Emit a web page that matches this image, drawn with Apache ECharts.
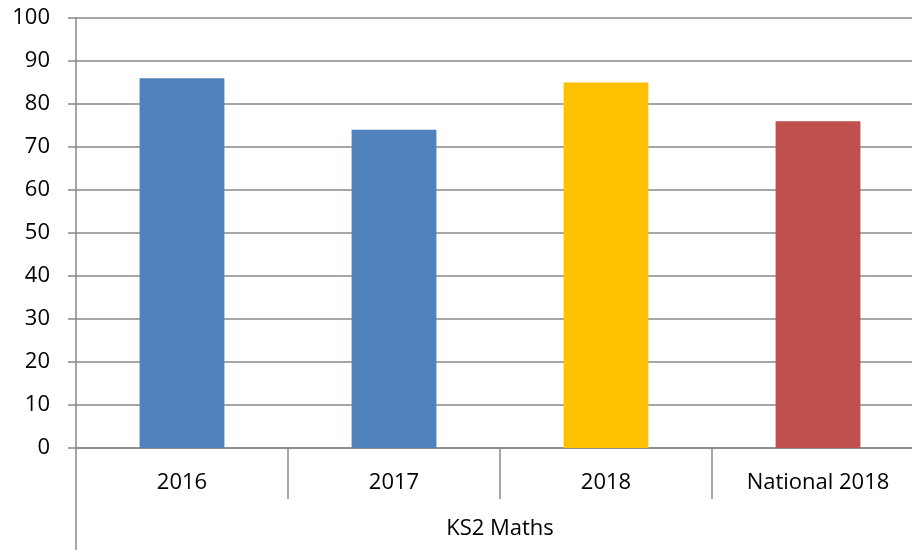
<!DOCTYPE html>
<html>
<head>
<meta charset="utf-8">
<script src="https://cdn.jsdelivr.net/npm/echarts@6/dist/echarts.min.js"></script>
<style>
  html, body { margin: 0; padding: 0; background: #fff; overflow: hidden; }
  /* the original chart runs past the right edge of the picture, so the canvas is a bit wider than the window */
  #chart { width: 924px; height: 550px; }
</style>
</head>
<body>
<div id="chart"></div>
<script>
var categories = ['2016', '2017', '2018', 'National 2018'];
var values = [86, 74, 85, 76];
var groupLabel = ['KS2 Maths'];
var yTicks = { min: 0, max: 100, interval: 10 };

var barColors = ['#4F81BD', '#4F81BD', '#FFC000', '#C0504D'];
var axisGrey = '#888888';
var font = 'Open Sans, Liberation Sans, sans-serif';

var myChart = echarts.init(document.getElementById('chart'));
var option = {
    animation: false,
    grid: {
        left: 76,
        top: 18,
        right: 0,
        bottom: 102,
        containLabel: false
    },
    xAxis: [{
        type: 'category',
        data: categories,
        position: 'bottom',
        axisLine: { show: true, lineStyle: { color: axisGrey, width: 1.5 } },
        axisTick: { show: true, interval: 0, length: 51, alignWithLabel: false,
            lineStyle: { color: axisGrey, width: 1.5 } },
        axisLabel: { interval: 0, margin: 24, color: '#000', fontSize: 22, fontFamily: font }
    }, {
        type: 'category',
        data: groupLabel,
        position: 'bottom',
        axisLine: { show: false },
        axisTick: { show: true, length: 102, alignWithLabel: false,
            lineStyle: { color: axisGrey, width: 1.5 } },
        axisLabel: { margin: 70, color: '#000', fontSize: 22, fontFamily: font },
        splitLine: { show: false }
    }],
    yAxis: {
        type: 'value',
        min: yTicks.min,
        max: yTicks.max,
        interval: yTicks.interval,
        axisLine: { show: true, lineStyle: { color: axisGrey, width: 1.5 } },
        axisTick: { show: true, length: 8, lineStyle: { color: axisGrey, width: 1.5 } },
        axisLabel: { margin: 26, color: '#000', fontSize: 22, fontFamily: font },
        splitLine: { show: true, lineStyle: { color: axisGrey, width: 1.5 } }
    },
    series: [{
        type: 'bar',
        xAxisIndex: 0,
        data: values,
        barWidth: '40%',
        itemStyle: {
            color: function (p) { return barColors[p.dataIndex]; }
        }
    }]
};
myChart.setOption(option);
</script>
</body>
</html>
